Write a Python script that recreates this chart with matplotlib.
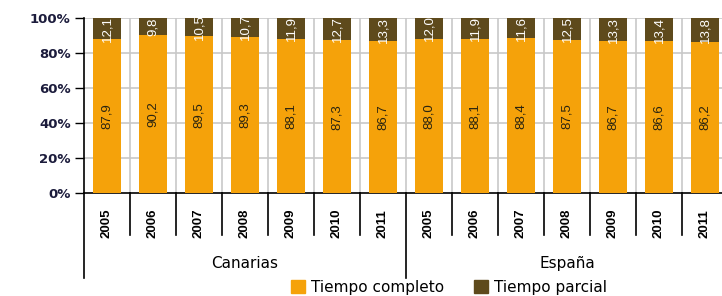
import matplotlib
matplotlib.use("Agg")
import matplotlib.pyplot as plt
from matplotlib.patches import Patch
from matplotlib.transforms import blended_transform_factory

# ================================
# Data
# ================================
groups = ["Canarias", "España"]
years = ["2005", "2006", "2007", "2008", "2009", "2010", "2011"]
completo = [87.9, 90.2, 89.5, 89.3, 88.1, 87.3, 86.7,
            88.0, 88.1, 88.4, 87.5, 86.7, 86.6, 86.2]
parcial = [12.1, 9.8, 10.5, 10.7, 11.9, 12.7, 13.3,
           12.0, 11.9, 11.6, 12.5, 13.3, 13.4, 13.8]

orange = "#F5A20A"
brown = "#5E4A1C"

plt.rcParams["font.family"] = ["Liberation Sans", "DejaVu Sans"]

fig = plt.figure(figsize=(7.22, 2.96), dpi=100)
ax = fig.add_axes([0.1163, 0.348, 0.892, 0.591])

x = list(range(len(completo)))
ax.bar(x, completo, width=0.61, color=orange, zorder=3)
ax.bar(x, parcial, width=0.61, bottom=completo, color=brown, zorder=3)

# value labels
for xi, c, p in zip(x, completo, parcial):
    ax.text(xi, c / 2, f"{c:.1f}".replace(".", ","), rotation=90,
            ha="center", va="center", fontsize=9.5, color="#2a2410", zorder=4)
    ax.text(xi, c + p / 2, f"{p:.1f}".replace(".", ","), rotation=90,
            ha="center", va="center", fontsize=9.5, color="white", zorder=4)

ax.set_xlim(-0.5, len(completo) - 0.5)
ax.set_ylim(0, 100)
ax.set_yticks([0, 20, 40, 60, 80, 100])
ax.set_yticklabels(["0%", "20%", "40%", "60%", "80%", "100%"],
                   fontsize=9.5, fontweight="bold", color="#1c1c3c",
                   family="DejaVu Sans")
ax.tick_params(axis="y", length=6.5, width=1, direction="out", pad=3)
ax.set_xticks([])

# grid
for yv in [20, 40, 60, 80, 100]:
    ax.axhline(yv, color="#c8c8c8", lw=1.2, zorder=1)
for b in range(1, len(completo)):
    ax.axvline(b - 0.5, color="#c8c8c8", lw=1.2, zorder=1)

for s in ["top", "right"]:
    ax.spines[s].set_visible(False)
ax.spines["left"].set_linewidth(1.2)
ax.spines["bottom"].set_linewidth(1.2)

# category axis below
tr = blended_transform_factory(ax.transData, fig.transFigure)
for i, yr in enumerate(years * 2):
    ax.text(i, 0.245, yr, rotation=90, ha="center", va="center",
            fontsize=9.5, fontweight="bold", transform=tr)
for b in range(len(completo) + 1):
    if b % 7 == 0:
        ax.plot([b - 0.5, b - 0.5], [0.348, 0.061], color="black", lw=1.2,
                transform=tr, clip_on=False)
    else:
        ax.plot([b - 0.5, b - 0.5], [0.348, 0.206], color="black", lw=1.2,
                transform=tr, clip_on=False)
for g, name in enumerate(groups):
    ax.text(g * 7 + 3, 0.111, name, ha="center", va="center",
            fontsize=11, family="DejaVu Sans", transform=tr)

# legend
handles = [Patch(color=orange, label="Tiempo completo"),
           Patch(color=brown, label="Tiempo parcial")]
fig.legend(handles=handles, loc="center", bbox_to_anchor=(0.622, 0.03),
           ncol=2, frameon=False, prop={"family": "DejaVu Sans", "size": 11},
           handlelength=0.9, handleheight=0.9, handletextpad=0.4,
           columnspacing=2.0)

fig.savefig("out.png", dpi=100)
